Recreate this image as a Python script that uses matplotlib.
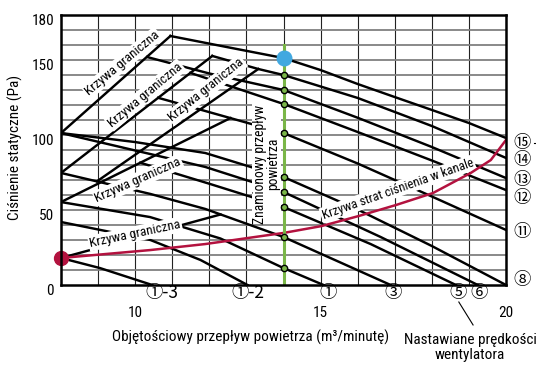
import numpy as np
import matplotlib
matplotlib.use("Agg")
import matplotlib.pyplot as plt
from matplotlib import font_manager as fm
import matplotlib.transforms as mtransforms

# ---------------- data ----------------
x_ticks = [10, 15, 20]
y_ticks = [0, 50, 100, 150, 180]

# fan-speed curves (x: m3/min, y: Pa)
c15_x = [10.95, 12.5, 14, 15, 16, 17, 18, 19, 20]
c15_y = [166, 158.5, 151.3, 143.3, 134, 125.3, 116.7, 108, 98]
c14_x = [12.08, 13.32, 14, 16, 18, 20]
c14_y = [152.7, 144, 140, 124.7, 106, 84.7]
c13_x = [10.32, 12, 14, 16, 18, 20]
c13_y = [152, 141, 130, 111.5, 92, 71.3]
c12_x = [11.49, 14, 16, 18, 20]
c12_y = [141.4, 120.7, 102, 83, 63.3]
c11_x = [10.62, 11.89, 14, 16, 18, 20]
c11_y = [124.8, 116, 101.3, 81, 59, 36.7]
c8_x = [8, 10, 11.89, 14, 16, 18, 20]
c8_y = [101.3, 95.3, 88, 72, 50.3, 26, 0]
c6_x = [8, 11.89, 14, 16.62, 19.24]
c6_y = [101.3, 78.7, 62, 32, 0]
c5_x = [10.14, 12, 14, 16.35, 18.65]
c5_y = [81.5, 67.5, 52, 27.3, 0]
c3_x = [8, 10.41, 11.89, 14, 16.89]
c3_y = [74.7, 60.7, 50.7, 32, 0]
c1_x = [8, 10.4, 12.3, 14, 15.08]
c1_y = [55.3, 45.3, 31, 11.3, 0]
c1m2_x = [8, 10.41, 11.76, 13.03]
c1m2_y = [42, 30, 16.7, 0]
c1m3_x = [8, 9.05, 10.46]
c1m3_y = [18, 11.3, 0]

# boundary curves ("Krzywa graniczna")
b1_x = [8, 10.95]
b1_y = [101.3, 166]
b2_x = [8, 12.08]
b2_y = [74.7, 152.7]
b3_x = [8.97, 13.32]
b3_y = [69.1, 144]
b4_x = [8, 12.57]
b4_y = [55.3, 111.3]
b5_x = [8, 12.3]
b5_y = [18, 47]

# duct pressure-loss curve
duct_x = [8, 10.41, 11.89, 14, 15.03, 16.03, 17.03, 18.03, 19.05, 19.59, 20]
duct_y = [18, 23.3, 27.3, 34.7, 39.3, 46, 53.3, 61.3, 74.7, 83.3, 96.7]

rated_flow = 14
rated_top = 160

bottom_labels = ["\u2460-3", "\u2460-2", "\u2460", "\u2462", "\u2464", "\u2465"]
bottom_label_x = [10.73, 13.05, 15.19, 16.95, 18.7, 19.27]
right_labels = ["\u246e", "\u246d", "\u246c", "\u246b", "\u246a", "\u2467"]
right_label_y = [94.7, 83.3, 70, 58, 35.3, 3.3]

# ---------------- fonts ----------------
names = {f.name for f in fm.fontManager.ttflist}
cond = None
for n in ["Roboto Condensed", "Liberation Sans Narrow", "Open Sans Condensed", "Arial Narrow"]:
    if n in names:
        cond = n
        break
stretch = "normal"
if cond is None:
    cond = "DejaVu Sans"
    stretch = "condensed"
FAM = [cond, "DejaVu Sans"]
CIRC = ["Noto Sans CJK JP", "DejaVu Sans"]
plt.rcParams["font.family"] = FAM
plt.rcParams["font.stretch"] = stretch

# ---------------- figure ----------------
fig = plt.figure(figsize=(5.36, 3.65), dpi=100)
ax = fig.add_axes([61 / 536, 80 / 365, 445 / 536, 270 / 365])
ax.set_xlim(8, 20)
ax.set_ylim(0, 180)

for xv in np.arange(8, 21, 1):
    ax.axvline(xv, color="#222222", lw=0.8, zorder=1)
for yv in np.arange(10, 180, 10):
    ax.axhline(yv, color="#808080", lw=1.3, zorder=1)

LW = 1.75
curves = [(c15_x, c15_y), (c14_x, c14_y), (c13_x, c13_y), (c12_x, c12_y),
          (c11_x, c11_y), (c8_x, c8_y), (c6_x, c6_y), (c5_x, c5_y),
          (c3_x, c3_y), (c1_x, c1_y), (c1m2_x, c1m2_y), (c1m3_x, c1m3_y)]
for cx, cy in curves:
    ax.plot(cx, cy, color="black", lw=LW, zorder=3, solid_joinstyle="round")
for bx, by in [(b1_x, b1_y), (b2_x, b2_y), (b3_x, b3_y), (b4_x, b4_y), (b5_x, b5_y)]:
    ax.plot(bx, by, color="black", lw=LW, zorder=3)

red = "#b3123f"
ax.plot(duct_x, duct_y, color=red, lw=1.8, zorder=6)
ax.plot([duct_x[0]], [duct_y[0]], "o", color=red, ms=10, zorder=8, clip_on=False)

# rated flow line
green = "#7ab648"
ax.plot([rated_flow, rated_flow], [0, rated_top], color=green, lw=2.2, zorder=6)
cross = [np.interp(rated_flow, cx, cy) for cx, cy in curves[1:10]]
ax.plot([rated_flow] * len(cross), cross, "o", ms=4.5, mfc=green, mec="black", mew=1.0, zorder=7)
ax.plot([rated_flow], [np.interp(rated_flow, c15_x, c15_y)], "o", color="#41a8e0", ms=10.5, zorder=8)

# labels on the chart
box = dict(facecolor="white", edgecolor="none", pad=1.0)
kg = "Krzywa graniczna"
for (lx, ly, rot) in [(9.65, 148, 40), (10.27, 126.7, 40), (11.92, 130, 39), (10.08, 70, 24), (10.0, 34, 12)]:
    ax.text(lx, ly, kg, rotation=rot, rotation_mode="anchor", ha="center", va="center",
            fontsize=9.6, bbox=box, zorder=4)
ax.text(17.08, 64, "Krzywa strat ciśnienia w kanale", rotation=19.5, rotation_mode="anchor",
        ha="center", va="center", fontsize=9.3, bbox=box, zorder=4)
ax.text(13.54, 80.7, "Znamionowy przepływ\npowietrza", rotation=90, rotation_mode="anchor",
        ha="center", va="center", multialignment="center", fontsize=9.8,
        linespacing=0.92, bbox=dict(facecolor="white", edgecolor="none", pad=0.5), zorder=5)

# circled speed markers
tb = mtransforms.blended_transform_factory(ax.transData, ax.transAxes)
for lab, lx in zip(bottom_labels, bottom_label_x):
    ax.text(lx, -0.03, lab, transform=tb, ha="center", va="center", fontsize=12.5,
            family=CIRC, clip_on=False)
tr = mtransforms.blended_transform_factory(ax.transAxes, ax.transData)
for lab, ly in zip(right_labels, right_label_y):
    ax.text(1.036, ly, lab, transform=tr, ha="center", va="center", fontsize=12.5,
            family=CIRC, clip_on=False)
ax.plot([1.062, 1.078], [right_label_y[0], right_label_y[0]], transform=tr, color="black",
        lw=0.8, clip_on=False)

# axes styling
for s in ax.spines.values():
    s.set_linewidth(1.8)
    s.set_color("black")
    s.set_zorder(9)
ax.set_xticks(x_ticks)
ax.set_yticks(y_ticks)
ax.tick_params(length=0, labelsize=11)
ax.tick_params(axis="x", pad=15)
ax.tick_params(axis="y", pad=5)
off = mtransforms.ScaledTranslation(0, -0.045, fig.dpi_scale_trans)
for lab in ax.get_yticklabels():
    lab.set_transform(lab.get_transform() + off)

ax.text(0.427, -0.193, "Objętościowy przepływ powietrza (m³/minutę)", transform=ax.transAxes,
        ha="center", va="center", fontsize=11)
ax.text(-0.103, 0.511, "Ciśnienie statyczne (Pa)", transform=ax.transAxes, rotation=90,
        ha="center", va="center", fontsize=11)
ax.text(0.919, -0.232, "Nastawiane prędkości\nwentylatora", transform=ax.transAxes,
        ha="center", va="center", multialignment="center", fontsize=11, linespacing=1.15)
ax.plot([0.894, 0.926], [-0.063, -0.148], transform=ax.transAxes, color="black", lw=0.8,
        clip_on=False)

fig.savefig("out.png", dpi=100)
